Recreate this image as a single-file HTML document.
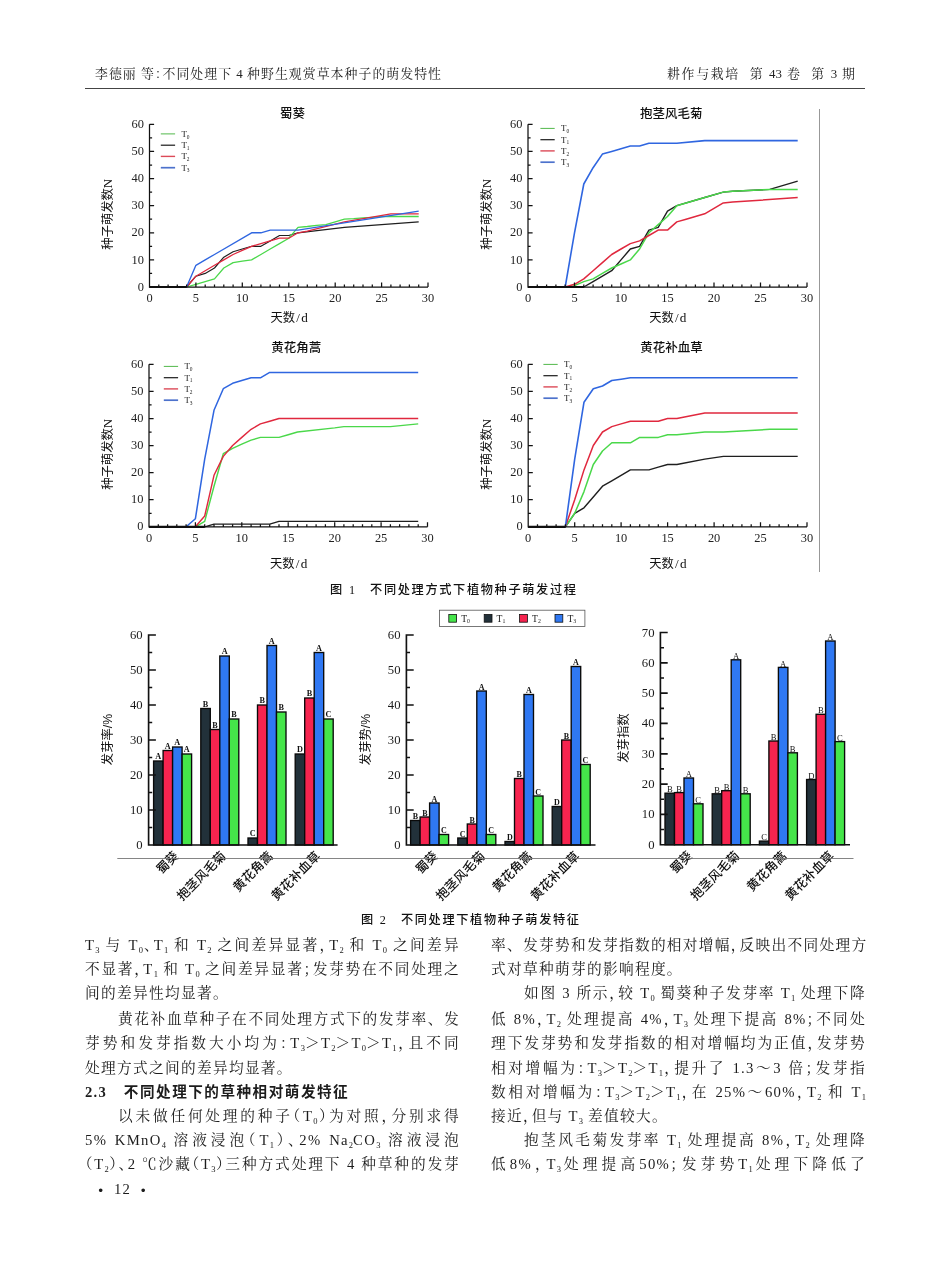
<!DOCTYPE html>
<html lang="zh-CN"><head><meta charset="utf-8"><title>耕作与栽培 第43卷 第3期</title>
<style>
html,body{margin:0;padding:0;background:#fff}
#pg{position:relative;width:950px;height:1280px;overflow:hidden;background:#fff;color:#1c1c1c;font-family:"Liberation Serif","Noto Serif CJK SC",serif}
.l{position:absolute;height:24px;line-height:24px;font-size:14.7px;white-space:nowrap;text-spacing-trim:space-all;letter-spacing:1.3px}
.j{text-align:justify;text-align-last:justify}
.l sub{font-size:8.5px;vertical-align:baseline;position:relative;top:2.5px;letter-spacing:0}
.l i,.hd i{font-style:normal;font-feature-settings:"halt" 1}
.hd{position:absolute;top:63px;height:22px;line-height:22px;font-size:12.9px;color:#222;text-align:justify;text-align-last:justify}
.cap{position:absolute;height:20px;line-height:20px;font-size:12.2px;font-family:"Liberation Sans","Noto Sans CJK SC",sans-serif;font-weight:500;color:#111;text-align:justify;text-align-last:justify}
.sf{font-family:"Liberation Serif",serif;font-weight:400}
.bu{font-family:"DejaVu Sans",sans-serif;font-size:12.5px;line-height:1;position:relative;top:0.5px}
</style></head><body><div id="pg">
<div class="hd" style="left:95px;width:346px">李德丽 等<i>：</i>不同处理下 4 种野生观赏草本种子的萌发特性</div>
<div class="hd" style="left:667px;width:188px">耕作与栽培&nbsp; 第 43 卷&nbsp; 第 3 期</div>
<div style="position:absolute;left:85px;top:88px;width:780px;height:1px;background:#444"></div>
<svg width="950" height="1280" viewBox="0 0 950 1280" style="position:absolute;left:0;top:0">
<g>
<text x="292.5" y="117.8" text-anchor="middle" font-family='Liberation Sans, Noto Sans CJK SC, sans-serif' font-size="12.5" font-weight="500" fill="#111">蜀葵</text>
<polyline points="149.5,287 186.6,287 195.9,276.2 205.2,273.4 214.5,268 223.8,257.2 233.1,251.7 242.3,249 251.6,246.3 260.9,246.3 270.2,240.9 279.5,235.5 288.8,235.5 298,232.8 344.4,227.3 418.7,221.9" fill="none" stroke="#1f1f1f" stroke-width="1.19" stroke-linejoin="round"/>
<polyline points="149.5,287 186.6,287 195.9,284.3 205.2,281.6 214.5,278.9 223.8,268 233.1,262.6 242.3,261.2 251.6,259.9 260.9,254.5 270.2,249 279.5,243.6 288.8,238.2 298,227.3 307.3,226.5 316.6,225.4 325.9,224.6 335.2,221.9 344.4,219.2 353.7,218.7 363,217.9 372.3,217.3 381.6,216.5 418.7,216.5" fill="none" stroke="#4ad84a" stroke-width="1.27" stroke-linejoin="round"/>
<polyline points="149.5,287 186.6,287 195.9,276.2 205.2,270.7 214.5,265.3 223.8,259.9 233.1,254.5 242.3,250.4 251.6,246.3 260.9,243.6 270.2,240.9 279.5,238.2 288.8,238.2 298,232.8 307.3,231.1 344.4,221.9 390.9,213.8 400.1,213.8 418.7,213.8" fill="none" stroke="#e0283e" stroke-width="1.27" stroke-linejoin="round"/>
<polyline points="149.5,287 186.6,287 195.9,265.3 205.2,259.9 214.5,254.5 251.6,232.8 260.9,232.8 270.2,230.1 298,230.1 418.7,211.1" fill="none" stroke="#2f66e0" stroke-width="1.36" stroke-linejoin="round"/>
<path d="M149.5 287H186.6" stroke="#111" stroke-width="2.2"/>
<path d="M149.5 124.3V287H428M158.8 287v-2.6M168.1 287v-2.6M177.3 287v-2.6M186.6 287v-2.6M195.9 287v-4.6M205.2 287v-2.6M214.5 287v-2.6M223.8 287v-2.6M233.1 287v-2.6M242.3 287v-4.6M251.6 287v-2.6M260.9 287v-2.6M270.2 287v-2.6M279.5 287v-2.6M288.8 287v-4.6M298 287v-2.6M307.3 287v-2.6M316.6 287v-2.6M325.9 287v-2.6M335.2 287v-4.6M344.4 287v-2.6M353.7 287v-2.6M363 287v-2.6M372.3 287v-2.6M381.6 287v-4.6M390.9 287v-2.6M400.1 287v-2.6M409.4 287v-2.6M418.7 287v-2.6M428 287v-4.6M149.5 273.4h2.6M149.5 259.9h4.6M149.5 246.3h2.6M149.5 232.8h4.6M149.5 219.2h2.6M149.5 205.7h4.6M149.5 192.1h2.6M149.5 178.5h4.6M149.5 165h2.6M149.5 151.4h4.6M149.5 137.9h2.6M149.5 124.3h4.6" fill="none" stroke="#111" stroke-width="1.25"/>
<g font-family="Liberation Serif, serif" font-size="12.4" fill="#222">
<text x="149.5" y="302.2" text-anchor="middle">0</text>
<text x="195.9" y="302.2" text-anchor="middle">5</text>
<text x="242.3" y="302.2" text-anchor="middle">10</text>
<text x="288.8" y="302.2" text-anchor="middle">15</text>
<text x="335.2" y="302.2" text-anchor="middle">20</text>
<text x="381.6" y="302.2" text-anchor="middle">25</text>
<text x="428" y="302.2" text-anchor="middle">30</text>
<text x="144" y="290.6" text-anchor="end">0</text>
<text x="144" y="263.5" text-anchor="end">10</text>
<text x="144" y="236.4" text-anchor="end">20</text>
<text x="144" y="209.2" text-anchor="end">30</text>
<text x="144" y="182.1" text-anchor="end">40</text>
<text x="144" y="155" text-anchor="end">50</text>
<text x="144" y="127.9" text-anchor="end">60</text>
</g>
<text x="289.1" y="322" text-anchor="middle" font-family='Liberation Sans, Noto Sans CJK SC, sans-serif' font-size="12.3" fill="#111">天数<tspan font-family="Liberation Serif, serif" font-size="13.2" dx="1.2">/</tspan><tspan font-family="Liberation Serif, serif" font-size="13.2" dx="1.2">d</tspan></text>
<text transform="translate(111.8 214.2) rotate(-90)" text-anchor="middle" font-family='Liberation Sans, Noto Sans CJK SC, sans-serif' font-size="12.3" fill="#111">种子萌发数<tspan font-family="Liberation Serif, serif" font-size="13">N</tspan></text>
<path d="M160.8 133.9h14.3" stroke="#52b84a" stroke-width="1.0"/>
<text x="181.4" y="136.9" font-family='Liberation Serif, serif' font-size="8.9" fill="#222">T<tspan dy="1.6" font-size="5.4">0</tspan></text>
<path d="M160.8 145.2h14.3" stroke="#1a1a1a" stroke-width="1.2"/>
<text x="181.4" y="148.2" font-family='Liberation Serif, serif' font-size="8.9" fill="#222">T<tspan dy="1.6" font-size="5.4">1</tspan></text>
<path d="M160.8 156.4h14.3" stroke="#dc4a58" stroke-width="1.4"/>
<text x="181.4" y="159.4" font-family='Liberation Serif, serif' font-size="8.9" fill="#222">T<tspan dy="1.6" font-size="5.4">2</tspan></text>
<path d="M160.8 167.7h14.3" stroke="#4d72cc" stroke-width="1.7"/>
<text x="181.4" y="170.7" font-family='Liberation Serif, serif' font-size="8.9" fill="#222">T<tspan dy="1.6" font-size="5.4">3</tspan></text>
</g>
<g>
<text x="671.2" y="118.4" text-anchor="middle" font-family='Liberation Sans, Noto Sans CJK SC, sans-serif' font-size="12.5" font-weight="500" fill="#111">抱茎风毛菊</text>
<polyline points="528,287 583.8,287 593.1,281.6 602.4,276.2 611.7,270.7 621,259.9 630.3,249 639.6,246.3 648.9,230.1 658.2,227.3 667.5,211.1 676.8,205.7 704.7,197.5 723.3,192.1 732.6,191.3 769.8,189.4 797.7,181.2" fill="none" stroke="#1f1f1f" stroke-width="1.40" stroke-linejoin="round"/>
<polyline points="528,287 570.8,287 574.5,285.6 583.8,281.6 593.1,278.9 602.4,273.4 611.7,268 621,264 630.3,259.9 639.6,249 648.9,232.8 658.2,224.6 667.5,216.5 676.8,205.7 704.7,197.5 723.3,192.1 732.6,191.3 769.8,189.4 797.7,189.4" fill="none" stroke="#4ad84a" stroke-width="1.50" stroke-linejoin="round"/>
<polyline points="528,287 565.2,287 574.5,284.3 583.8,278.9 593.1,270.7 602.4,262.6 611.7,254.5 621,249 630.3,243.6 639.6,240.9 648.9,235.5 658.2,230.1 667.5,230.1 676.8,221.9 686.1,219.2 695.4,216.5 704.7,213.8 714,208.4 723.3,202.9 732.6,202.1 797.7,197.5" fill="none" stroke="#e0283e" stroke-width="1.50" stroke-linejoin="round"/>
<polyline points="528,287 565.2,287 574.5,232.8 583.8,184 593.1,167.7 602.4,154.1 611.7,151.4 621,148.7 630.3,146 639.6,146 648.9,143.3 676.8,143.3 704.7,140.6 797.7,140.6" fill="none" stroke="#2f66e0" stroke-width="1.60" stroke-linejoin="round"/>
<path d="M528 287H583.8" stroke="#111" stroke-width="2.2"/>
<path d="M528 124.3V287H807M537.3 287v-2.6M546.6 287v-2.6M555.9 287v-2.6M565.2 287v-2.6M574.5 287v-4.6M583.8 287v-2.6M593.1 287v-2.6M602.4 287v-2.6M611.7 287v-2.6M621 287v-4.6M630.3 287v-2.6M639.6 287v-2.6M648.9 287v-2.6M658.2 287v-2.6M667.5 287v-4.6M676.8 287v-2.6M686.1 287v-2.6M695.4 287v-2.6M704.7 287v-2.6M714 287v-4.6M723.3 287v-2.6M732.6 287v-2.6M741.9 287v-2.6M751.2 287v-2.6M760.5 287v-4.6M769.8 287v-2.6M779.1 287v-2.6M788.4 287v-2.6M797.7 287v-2.6M807 287v-4.6M528 273.4h2.6M528 259.9h4.6M528 246.3h2.6M528 232.8h4.6M528 219.2h2.6M528 205.7h4.6M528 192.1h2.6M528 178.5h4.6M528 165h2.6M528 151.4h4.6M528 137.9h2.6M528 124.3h4.6" fill="none" stroke="#111" stroke-width="1.25"/>
<g font-family="Liberation Serif, serif" font-size="12.4" fill="#222">
<text x="528" y="302.2" text-anchor="middle">0</text>
<text x="574.5" y="302.2" text-anchor="middle">5</text>
<text x="621" y="302.2" text-anchor="middle">10</text>
<text x="667.5" y="302.2" text-anchor="middle">15</text>
<text x="714" y="302.2" text-anchor="middle">20</text>
<text x="760.5" y="302.2" text-anchor="middle">25</text>
<text x="807" y="302.2" text-anchor="middle">30</text>
<text x="522.5" y="290.6" text-anchor="end">0</text>
<text x="522.5" y="263.5" text-anchor="end">10</text>
<text x="522.5" y="236.4" text-anchor="end">20</text>
<text x="522.5" y="209.2" text-anchor="end">30</text>
<text x="522.5" y="182.1" text-anchor="end">40</text>
<text x="522.5" y="155" text-anchor="end">50</text>
<text x="522.5" y="127.9" text-anchor="end">60</text>
</g>
<text x="667.8" y="322.4" text-anchor="middle" font-family='Liberation Sans, Noto Sans CJK SC, sans-serif' font-size="12.3" fill="#111">天数<tspan font-family="Liberation Serif, serif" font-size="13.2" dx="1.2">/</tspan><tspan font-family="Liberation Serif, serif" font-size="13.2" dx="1.2">d</tspan></text>
<text transform="translate(491.2 214.2) rotate(-90)" text-anchor="middle" font-family='Liberation Sans, Noto Sans CJK SC, sans-serif' font-size="12.3" fill="#111">种子萌发数<tspan font-family="Liberation Serif, serif" font-size="13">N</tspan></text>
<path d="M540.4 128.4h14.3" stroke="#52b84a" stroke-width="1.0"/>
<text x="561" y="131.4" font-family='Liberation Serif, serif' font-size="8.9" fill="#222">T<tspan dy="1.6" font-size="5.4">0</tspan></text>
<path d="M540.4 139.7h14.3" stroke="#1a1a1a" stroke-width="1.2"/>
<text x="561" y="142.7" font-family='Liberation Serif, serif' font-size="8.9" fill="#222">T<tspan dy="1.6" font-size="5.4">1</tspan></text>
<path d="M540.4 150.9h14.3" stroke="#dc4a58" stroke-width="1.4"/>
<text x="561" y="153.9" font-family='Liberation Serif, serif' font-size="8.9" fill="#222">T<tspan dy="1.6" font-size="5.4">2</tspan></text>
<path d="M540.4 162.2h14.3" stroke="#4d72cc" stroke-width="1.7"/>
<text x="561" y="165.2" font-family='Liberation Serif, serif' font-size="8.9" fill="#222">T<tspan dy="1.6" font-size="5.4">3</tspan></text>
</g>
<g>
<text x="296.3" y="351.6" text-anchor="middle" font-family='Liberation Sans, Noto Sans CJK SC, sans-serif' font-size="12.5" font-weight="500" fill="#111">黄花角蒿</text>
<polyline points="149,526.8 204.7,526.8 214,524.1 269.7,524.1 279,521.4 418.2,521.4" fill="none" stroke="#1f1f1f" stroke-width="1.33" stroke-linejoin="round"/>
<polyline points="149,526.8 195.4,526.8 204.7,521.4 214,486.2 223.3,453.7 232.6,448.3 241.8,444.2 251.1,440.1 260.4,437.4 279,437.4 288.2,434.7 297.5,432 334.7,427.9 343.9,426.6 390.4,426.6 418.2,423.9" fill="none" stroke="#4ad84a" stroke-width="1.42" stroke-linejoin="round"/>
<polyline points="149,526.8 195.4,526.8 204.7,516 214,475.3 223.3,456.4 232.6,445.5 241.8,437.4 251.1,429.3 260.4,423.9 269.7,421.2 279,418.5 418.2,418.5" fill="none" stroke="#e0283e" stroke-width="1.42" stroke-linejoin="round"/>
<polyline points="149,526.8 186.1,526.8 195.4,518.7 204.7,459.1 214,410.3 223.3,388.7 232.6,383.3 241.8,380.5 251.1,377.8 260.4,377.8 269.7,372.4 418.2,372.4" fill="none" stroke="#2f66e0" stroke-width="1.52" stroke-linejoin="round"/>
<path d="M149 526.8H204.7" stroke="#111" stroke-width="2.2"/>
<path d="M149 364.3V526.8H427.5M158.3 526.8v-2.6M167.6 526.8v-2.6M176.8 526.8v-2.6M186.1 526.8v-2.6M195.4 526.8v-4.6M204.7 526.8v-2.6M214 526.8v-2.6M223.3 526.8v-2.6M232.6 526.8v-2.6M241.8 526.8v-4.6M251.1 526.8v-2.6M260.4 526.8v-2.6M269.7 526.8v-2.6M279 526.8v-2.6M288.2 526.8v-4.6M297.5 526.8v-2.6M306.8 526.8v-2.6M316.1 526.8v-2.6M325.4 526.8v-2.6M334.7 526.8v-4.6M343.9 526.8v-2.6M353.2 526.8v-2.6M362.5 526.8v-2.6M371.8 526.8v-2.6M381.1 526.8v-4.6M390.4 526.8v-2.6M399.6 526.8v-2.6M408.9 526.8v-2.6M418.2 526.8v-2.6M427.5 526.8v-4.6M149 513.3h2.6M149 499.7h4.6M149 486.2h2.6M149 472.6h4.6M149 459.1h2.6M149 445.5h4.6M149 432h2.6M149 418.5h4.6M149 404.9h2.6M149 391.4h4.6M149 377.8h2.6M149 364.3h4.6" fill="none" stroke="#111" stroke-width="1.25"/>
<g font-family="Liberation Serif, serif" font-size="12.4" fill="#222">
<text x="149" y="542" text-anchor="middle">0</text>
<text x="195.4" y="542" text-anchor="middle">5</text>
<text x="241.8" y="542" text-anchor="middle">10</text>
<text x="288.2" y="542" text-anchor="middle">15</text>
<text x="334.7" y="542" text-anchor="middle">20</text>
<text x="381.1" y="542" text-anchor="middle">25</text>
<text x="427.5" y="542" text-anchor="middle">30</text>
<text x="143.5" y="530.4" text-anchor="end">0</text>
<text x="143.5" y="503.3" text-anchor="end">10</text>
<text x="143.5" y="476.2" text-anchor="end">20</text>
<text x="143.5" y="449.1" text-anchor="end">30</text>
<text x="143.5" y="422.1" text-anchor="end">40</text>
<text x="143.5" y="395" text-anchor="end">50</text>
<text x="143.5" y="367.9" text-anchor="end">60</text>
</g>
<text x="288.6" y="567.6" text-anchor="middle" font-family='Liberation Sans, Noto Sans CJK SC, sans-serif' font-size="12.3" fill="#111">天数<tspan font-family="Liberation Serif, serif" font-size="13.2" dx="1.2">/</tspan><tspan font-family="Liberation Serif, serif" font-size="13.2" dx="1.2">d</tspan></text>
<text transform="translate(111.8 454.3) rotate(-90)" text-anchor="middle" font-family='Liberation Sans, Noto Sans CJK SC, sans-serif' font-size="12.3" fill="#111">种子萌发数<tspan font-family="Liberation Serif, serif" font-size="13">N</tspan></text>
<path d="M163.8 366.4h14.3" stroke="#52b84a" stroke-width="1.0"/>
<text x="184.4" y="369.4" font-family='Liberation Serif, serif' font-size="8.9" fill="#222">T<tspan dy="1.6" font-size="5.4">0</tspan></text>
<path d="M163.8 377.7h14.3" stroke="#1a1a1a" stroke-width="1.2"/>
<text x="184.4" y="380.7" font-family='Liberation Serif, serif' font-size="8.9" fill="#222">T<tspan dy="1.6" font-size="5.4">1</tspan></text>
<path d="M163.8 388.9h14.3" stroke="#dc4a58" stroke-width="1.4"/>
<text x="184.4" y="391.9" font-family='Liberation Serif, serif' font-size="8.9" fill="#222">T<tspan dy="1.6" font-size="5.4">2</tspan></text>
<path d="M163.8 400.2h14.3" stroke="#4d72cc" stroke-width="1.7"/>
<text x="184.4" y="403.2" font-family='Liberation Serif, serif' font-size="8.9" fill="#222">T<tspan dy="1.6" font-size="5.4">3</tspan></text>
</g>
<g>
<text x="671.6" y="351.9" text-anchor="middle" font-family='Liberation Sans, Noto Sans CJK SC, sans-serif' font-size="12.5" font-weight="500" fill="#111">黄花补血草</text>
<polyline points="528.2,526.8 565.4,526.8 574.7,513.3 584,507.8 593.3,497 602.5,486.2 611.8,480.8 621.1,475.3 630.4,469.9 649,469.9 658.3,467.2 667.6,464.5 676.9,464.5 704.8,459.1 723.4,456.4 797.7,456.4" fill="none" stroke="#1f1f1f" stroke-width="1.40" stroke-linejoin="round"/>
<polyline points="528.2,526.8 565.4,526.8 574.7,513.3 584,491.6 593.3,464.5 602.5,451 611.8,442.8 630.4,442.8 639.7,437.4 658.3,437.4 667.6,434.7 676.9,434.7 704.8,432 723.4,432 769.8,429.3 797.7,429.3" fill="none" stroke="#4ad84a" stroke-width="1.50" stroke-linejoin="round"/>
<polyline points="528.2,526.8 565.4,526.8 574.7,499.7 584,469.9 593.3,445.5 602.5,432 611.8,426.6 621.1,423.9 630.4,421.2 658.3,421.2 667.6,418.5 676.9,418.5 704.8,413 797.7,413" fill="none" stroke="#e0283e" stroke-width="1.50" stroke-linejoin="round"/>
<polyline points="528.2,526.8 565.4,526.8 574.7,459.1 584,402.2 593.3,388.7 602.5,386 611.8,380.5 621.1,379.2 630.4,377.8 797.7,377.8" fill="none" stroke="#2f66e0" stroke-width="1.60" stroke-linejoin="round"/>
<path d="M528.2 526.8H565.4" stroke="#111" stroke-width="2.2"/>
<path d="M528.2 364.3V526.8H807M537.5 526.8v-2.6M546.8 526.8v-2.6M556.1 526.8v-2.6M565.4 526.8v-2.6M574.7 526.8v-4.6M584 526.8v-2.6M593.3 526.8v-2.6M602.5 526.8v-2.6M611.8 526.8v-2.6M621.1 526.8v-4.6M630.4 526.8v-2.6M639.7 526.8v-2.6M649 526.8v-2.6M658.3 526.8v-2.6M667.6 526.8v-4.6M676.9 526.8v-2.6M686.2 526.8v-2.6M695.5 526.8v-2.6M704.8 526.8v-2.6M714.1 526.8v-4.6M723.4 526.8v-2.6M732.7 526.8v-2.6M741.9 526.8v-2.6M751.2 526.8v-2.6M760.5 526.8v-4.6M769.8 526.8v-2.6M779.1 526.8v-2.6M788.4 526.8v-2.6M797.7 526.8v-2.6M807 526.8v-4.6M528.2 513.3h2.6M528.2 499.7h4.6M528.2 486.2h2.6M528.2 472.6h4.6M528.2 459.1h2.6M528.2 445.5h4.6M528.2 432h2.6M528.2 418.5h4.6M528.2 404.9h2.6M528.2 391.4h4.6M528.2 377.8h2.6M528.2 364.3h4.6" fill="none" stroke="#111" stroke-width="1.25"/>
<g font-family="Liberation Serif, serif" font-size="12.4" fill="#222">
<text x="528.2" y="542" text-anchor="middle">0</text>
<text x="574.7" y="542" text-anchor="middle">5</text>
<text x="621.1" y="542" text-anchor="middle">10</text>
<text x="667.6" y="542" text-anchor="middle">15</text>
<text x="714.1" y="542" text-anchor="middle">20</text>
<text x="760.5" y="542" text-anchor="middle">25</text>
<text x="807" y="542" text-anchor="middle">30</text>
<text x="522.7" y="530.4" text-anchor="end">0</text>
<text x="522.7" y="503.3" text-anchor="end">10</text>
<text x="522.7" y="476.2" text-anchor="end">20</text>
<text x="522.7" y="449.1" text-anchor="end">30</text>
<text x="522.7" y="422.1" text-anchor="end">40</text>
<text x="522.7" y="395" text-anchor="end">50</text>
<text x="522.7" y="367.9" text-anchor="end">60</text>
</g>
<text x="667.9" y="567.6" text-anchor="middle" font-family='Liberation Sans, Noto Sans CJK SC, sans-serif' font-size="12.3" fill="#111">天数<tspan font-family="Liberation Serif, serif" font-size="13.2" dx="1.2">/</tspan><tspan font-family="Liberation Serif, serif" font-size="13.2" dx="1.2">d</tspan></text>
<text transform="translate(491.2 454.3) rotate(-90)" text-anchor="middle" font-family='Liberation Sans, Noto Sans CJK SC, sans-serif' font-size="12.3" fill="#111">种子萌发数<tspan font-family="Liberation Serif, serif" font-size="13">N</tspan></text>
<path d="M543.4 364.4h14.3" stroke="#52b84a" stroke-width="1.0"/>
<text x="564" y="367.4" font-family='Liberation Serif, serif' font-size="8.9" fill="#222">T<tspan dy="1.6" font-size="5.4">0</tspan></text>
<path d="M543.4 375.7h14.3" stroke="#1a1a1a" stroke-width="1.2"/>
<text x="564" y="378.7" font-family='Liberation Serif, serif' font-size="8.9" fill="#222">T<tspan dy="1.6" font-size="5.4">1</tspan></text>
<path d="M543.4 386.9h14.3" stroke="#dc4a58" stroke-width="1.4"/>
<text x="564" y="389.9" font-family='Liberation Serif, serif' font-size="8.9" fill="#222">T<tspan dy="1.6" font-size="5.4">2</tspan></text>
<path d="M543.4 398.2h14.3" stroke="#4d72cc" stroke-width="1.7"/>
<text x="564" y="401.2" font-family='Liberation Serif, serif' font-size="8.9" fill="#222">T<tspan dy="1.6" font-size="5.4">3</tspan></text>
</g>
<g>
<text x="158.3" y="759" text-anchor="middle" font-family="Liberation Serif, serif" font-size="8.2" font-weight="bold" fill="#111">A</text>
<rect x="153.6" y="761" width="9.5" height="84" fill="#22313a" stroke="#0a0a0a" stroke-width="1.35"/>
<text x="167.8" y="748.5" text-anchor="middle" font-family="Liberation Serif, serif" font-size="8.2" font-weight="bold" fill="#111">A</text>
<rect x="163.1" y="750.5" width="9.5" height="94.5" fill="#f6244f" stroke="#0a0a0a" stroke-width="1.35"/>
<text x="177.3" y="745" text-anchor="middle" font-family="Liberation Serif, serif" font-size="8.2" font-weight="bold" fill="#111">A</text>
<rect x="172.6" y="747" width="9.5" height="98" fill="#2f78f3" stroke="#0a0a0a" stroke-width="1.35"/>
<text x="186.8" y="752" text-anchor="middle" font-family="Liberation Serif, serif" font-size="8.2" font-weight="bold" fill="#111">A</text>
<rect x="182.1" y="754" width="9.5" height="91" fill="#45e54a" stroke="#0a0a0a" stroke-width="1.35"/>
<text transform="translate(179.5 856.8) rotate(-45)" text-anchor="end" font-family='Liberation Sans, Noto Sans CJK SC, sans-serif' font-size="12.6" font-weight="500" fill="#111">蜀葵</text>
<text x="205.6" y="706.5" text-anchor="middle" font-family="Liberation Serif, serif" font-size="8.2" font-weight="bold" fill="#111">B</text>
<rect x="200.8" y="708.5" width="9.5" height="136.5" fill="#22313a" stroke="#0a0a0a" stroke-width="1.35"/>
<text x="215.1" y="727.5" text-anchor="middle" font-family="Liberation Serif, serif" font-size="8.2" font-weight="bold" fill="#111">B</text>
<rect x="210.3" y="729.5" width="9.5" height="115.5" fill="#f6244f" stroke="#0a0a0a" stroke-width="1.35"/>
<text x="224.6" y="654" text-anchor="middle" font-family="Liberation Serif, serif" font-size="8.2" font-weight="bold" fill="#111">A</text>
<rect x="219.8" y="656" width="9.5" height="189" fill="#2f78f3" stroke="#0a0a0a" stroke-width="1.35"/>
<text x="234.1" y="717" text-anchor="middle" font-family="Liberation Serif, serif" font-size="8.2" font-weight="bold" fill="#111">B</text>
<rect x="229.3" y="719" width="9.5" height="126" fill="#45e54a" stroke="#0a0a0a" stroke-width="1.35"/>
<text transform="translate(226.7 856.8) rotate(-45)" text-anchor="end" font-family='Liberation Sans, Noto Sans CJK SC, sans-serif' font-size="12.6" font-weight="500" fill="#111">抱茎风毛菊</text>
<text x="252.8" y="836" text-anchor="middle" font-family="Liberation Serif, serif" font-size="8.2" font-weight="bold" fill="#111">C</text>
<rect x="248" y="838" width="9.5" height="7" fill="#22313a" stroke="#0a0a0a" stroke-width="1.35"/>
<text x="262.2" y="703" text-anchor="middle" font-family="Liberation Serif, serif" font-size="8.2" font-weight="bold" fill="#111">B</text>
<rect x="257.5" y="705" width="9.5" height="140" fill="#f6244f" stroke="#0a0a0a" stroke-width="1.35"/>
<text x="271.8" y="643.5" text-anchor="middle" font-family="Liberation Serif, serif" font-size="8.2" font-weight="bold" fill="#111">A</text>
<rect x="267" y="645.5" width="9.5" height="199.5" fill="#2f78f3" stroke="#0a0a0a" stroke-width="1.35"/>
<text x="281.2" y="710" text-anchor="middle" font-family="Liberation Serif, serif" font-size="8.2" font-weight="bold" fill="#111">B</text>
<rect x="276.5" y="712" width="9.5" height="133" fill="#45e54a" stroke="#0a0a0a" stroke-width="1.35"/>
<text transform="translate(273.9 856.8) rotate(-45)" text-anchor="end" font-family='Liberation Sans, Noto Sans CJK SC, sans-serif' font-size="12.6" font-weight="500" fill="#111">黄花角蒿</text>
<text x="300" y="752" text-anchor="middle" font-family="Liberation Serif, serif" font-size="8.2" font-weight="bold" fill="#111">D</text>
<rect x="295.2" y="754" width="9.5" height="91" fill="#22313a" stroke="#0a0a0a" stroke-width="1.35"/>
<text x="309.5" y="696" text-anchor="middle" font-family="Liberation Serif, serif" font-size="8.2" font-weight="bold" fill="#111">B</text>
<rect x="304.7" y="698" width="9.5" height="147" fill="#f6244f" stroke="#0a0a0a" stroke-width="1.35"/>
<text x="319" y="650.5" text-anchor="middle" font-family="Liberation Serif, serif" font-size="8.2" font-weight="bold" fill="#111">A</text>
<rect x="314.2" y="652.5" width="9.5" height="192.5" fill="#2f78f3" stroke="#0a0a0a" stroke-width="1.35"/>
<text x="328.5" y="717" text-anchor="middle" font-family="Liberation Serif, serif" font-size="8.2" font-weight="bold" fill="#111">C</text>
<rect x="323.7" y="719" width="9.5" height="126" fill="#45e54a" stroke="#0a0a0a" stroke-width="1.35"/>
<text transform="translate(321.1 856.8) rotate(-45)" text-anchor="end" font-family='Liberation Sans, Noto Sans CJK SC, sans-serif' font-size="12.6" font-weight="500" fill="#111">黄花补血草</text>
<path d="M148.6 634.2V845H337.6M148.6 827.5h3.6M148.6 810h7.3M148.6 792.5h3.6M148.6 775h7.3M148.6 757.5h3.6M148.6 740h7.3M148.6 722.5h3.6M148.6 705h7.3M148.6 687.5h3.6M148.6 670h7.3M148.6 652.5h3.6M148.6 635h7.3" fill="none" stroke="#111" stroke-width="1.65"/>
<g font-family="Liberation Serif, serif" font-size="13.5" fill="#1a1a1a">
<text transform="translate(142.7 849) scale(0.94 1)" text-anchor="end">0</text>
<text transform="translate(142.7 814) scale(0.94 1)" text-anchor="end">10</text>
<text transform="translate(142.7 779) scale(0.94 1)" text-anchor="end">20</text>
<text transform="translate(142.7 744) scale(0.94 1)" text-anchor="end">30</text>
<text transform="translate(142.7 709) scale(0.94 1)" text-anchor="end">40</text>
<text transform="translate(142.7 674) scale(0.94 1)" text-anchor="end">50</text>
<text transform="translate(142.7 639) scale(0.94 1)" text-anchor="end">60</text>
</g>
<text transform="translate(111.6 739.5) rotate(-90)" text-anchor="middle" font-family='Liberation Sans, Noto Sans CJK SC, sans-serif' font-size="12.3" fill="#111">发芽率/%</text>
</g>
<g>
<text x="415.4" y="819" text-anchor="middle" font-family="Liberation Serif, serif" font-size="8" font-weight="bold" fill="#111">B</text>
<rect x="410.6" y="820.5" width="9.5" height="24.5" fill="#22313a" stroke="#0a0a0a" stroke-width="1.35"/>
<text x="424.9" y="815.5" text-anchor="middle" font-family="Liberation Serif, serif" font-size="8" font-weight="bold" fill="#111">B</text>
<rect x="420.1" y="817" width="9.5" height="28" fill="#f6244f" stroke="#0a0a0a" stroke-width="1.35"/>
<text x="434.4" y="801.5" text-anchor="middle" font-family="Liberation Serif, serif" font-size="8" font-weight="bold" fill="#111">A</text>
<rect x="429.6" y="803" width="9.5" height="42" fill="#2f78f3" stroke="#0a0a0a" stroke-width="1.35"/>
<text x="443.9" y="833" text-anchor="middle" font-family="Liberation Serif, serif" font-size="8" font-weight="bold" fill="#111">C</text>
<rect x="439.1" y="834.5" width="9.5" height="10.5" fill="#45e54a" stroke="#0a0a0a" stroke-width="1.35"/>
<text transform="translate(438.7 856.8) rotate(-45)" text-anchor="end" font-family='Liberation Sans, Noto Sans CJK SC, sans-serif' font-size="12.6" font-weight="500" fill="#111">蜀葵</text>
<text x="462.6" y="836.5" text-anchor="middle" font-family="Liberation Serif, serif" font-size="8" font-weight="bold" fill="#111">C</text>
<rect x="457.8" y="838" width="9.5" height="7" fill="#22313a" stroke="#0a0a0a" stroke-width="1.35"/>
<text x="472.1" y="822.5" text-anchor="middle" font-family="Liberation Serif, serif" font-size="8" font-weight="bold" fill="#111">B</text>
<rect x="467.3" y="824" width="9.5" height="21" fill="#f6244f" stroke="#0a0a0a" stroke-width="1.35"/>
<text x="481.6" y="689.5" text-anchor="middle" font-family="Liberation Serif, serif" font-size="8" font-weight="bold" fill="#111">A</text>
<rect x="476.8" y="691" width="9.5" height="154" fill="#2f78f3" stroke="#0a0a0a" stroke-width="1.35"/>
<text x="491.1" y="833" text-anchor="middle" font-family="Liberation Serif, serif" font-size="8" font-weight="bold" fill="#111">C</text>
<rect x="486.3" y="834.5" width="9.5" height="10.5" fill="#45e54a" stroke="#0a0a0a" stroke-width="1.35"/>
<text transform="translate(485.9 856.8) rotate(-45)" text-anchor="end" font-family='Liberation Sans, Noto Sans CJK SC, sans-serif' font-size="12.6" font-weight="500" fill="#111">抱茎风毛菊</text>
<text x="509.8" y="840" text-anchor="middle" font-family="Liberation Serif, serif" font-size="8" font-weight="bold" fill="#111">D</text>
<rect x="505" y="841.5" width="9.5" height="3.5" fill="#22313a" stroke="#0a0a0a" stroke-width="1.35"/>
<text x="519.2" y="777" text-anchor="middle" font-family="Liberation Serif, serif" font-size="8" font-weight="bold" fill="#111">B</text>
<rect x="514.5" y="778.5" width="9.5" height="66.5" fill="#f6244f" stroke="#0a0a0a" stroke-width="1.35"/>
<text x="528.8" y="693" text-anchor="middle" font-family="Liberation Serif, serif" font-size="8" font-weight="bold" fill="#111">A</text>
<rect x="524" y="694.5" width="9.5" height="150.5" fill="#2f78f3" stroke="#0a0a0a" stroke-width="1.35"/>
<text x="538.2" y="794.5" text-anchor="middle" font-family="Liberation Serif, serif" font-size="8" font-weight="bold" fill="#111">C</text>
<rect x="533.5" y="796" width="9.5" height="49" fill="#45e54a" stroke="#0a0a0a" stroke-width="1.35"/>
<text transform="translate(533.1 856.8) rotate(-45)" text-anchor="end" font-family='Liberation Sans, Noto Sans CJK SC, sans-serif' font-size="12.6" font-weight="500" fill="#111">黄花角蒿</text>
<text x="557" y="805" text-anchor="middle" font-family="Liberation Serif, serif" font-size="8" font-weight="bold" fill="#111">D</text>
<rect x="552.2" y="806.5" width="9.5" height="38.5" fill="#22313a" stroke="#0a0a0a" stroke-width="1.35"/>
<text x="566.5" y="738.5" text-anchor="middle" font-family="Liberation Serif, serif" font-size="8" font-weight="bold" fill="#111">B</text>
<rect x="561.7" y="740" width="9.5" height="105" fill="#f6244f" stroke="#0a0a0a" stroke-width="1.35"/>
<text x="576" y="665" text-anchor="middle" font-family="Liberation Serif, serif" font-size="8" font-weight="bold" fill="#111">A</text>
<rect x="571.2" y="666.5" width="9.5" height="178.5" fill="#2f78f3" stroke="#0a0a0a" stroke-width="1.35"/>
<text x="585.5" y="763" text-anchor="middle" font-family="Liberation Serif, serif" font-size="8" font-weight="bold" fill="#111">C</text>
<rect x="580.7" y="764.5" width="9.5" height="80.5" fill="#45e54a" stroke="#0a0a0a" stroke-width="1.35"/>
<text transform="translate(580.3 856.8) rotate(-45)" text-anchor="end" font-family='Liberation Sans, Noto Sans CJK SC, sans-serif' font-size="12.6" font-weight="500" fill="#111">黄花补血草</text>
<path d="M406.4 634.2V845H595.5M406.4 827.5h3.6M406.4 810h7.3M406.4 792.5h3.6M406.4 775h7.3M406.4 757.5h3.6M406.4 740h7.3M406.4 722.5h3.6M406.4 705h7.3M406.4 687.5h3.6M406.4 670h7.3M406.4 652.5h3.6M406.4 635h7.3" fill="none" stroke="#111" stroke-width="1.65"/>
<g font-family="Liberation Serif, serif" font-size="13.5" fill="#1a1a1a">
<text transform="translate(400.5 849) scale(0.94 1)" text-anchor="end">0</text>
<text transform="translate(400.5 814) scale(0.94 1)" text-anchor="end">10</text>
<text transform="translate(400.5 779) scale(0.94 1)" text-anchor="end">20</text>
<text transform="translate(400.5 744) scale(0.94 1)" text-anchor="end">30</text>
<text transform="translate(400.5 709) scale(0.94 1)" text-anchor="end">40</text>
<text transform="translate(400.5 674) scale(0.94 1)" text-anchor="end">50</text>
<text transform="translate(400.5 639) scale(0.94 1)" text-anchor="end">60</text>
</g>
<text transform="translate(369.6 739.5) rotate(-90)" text-anchor="middle" font-family='Liberation Sans, Noto Sans CJK SC, sans-serif' font-size="12.3" fill="#111">发芽势/%</text>
</g>
<g>
<text x="669.8" y="792.3" text-anchor="middle" font-family="Liberation Serif, serif" font-size="8.6" fill="#111">B</text>
<rect x="665" y="793.2" width="9.5" height="51.5" fill="#22313a" stroke="#0a0a0a" stroke-width="1.35"/>
<text x="679.2" y="791.7" text-anchor="middle" font-family="Liberation Serif, serif" font-size="8.6" fill="#111">B</text>
<rect x="674.5" y="792.6" width="9.5" height="52.1" fill="#f6244f" stroke="#0a0a0a" stroke-width="1.35"/>
<text x="688.8" y="777.1" text-anchor="middle" font-family="Liberation Serif, serif" font-size="8.6" fill="#111">A</text>
<rect x="684" y="778" width="9.5" height="66.7" fill="#2f78f3" stroke="#0a0a0a" stroke-width="1.35"/>
<text x="698.2" y="802.9" text-anchor="middle" font-family="Liberation Serif, serif" font-size="8.6" fill="#111">C</text>
<rect x="693.5" y="803.8" width="9.5" height="40.9" fill="#45e54a" stroke="#0a0a0a" stroke-width="1.35"/>
<text transform="translate(693.2 856.5) rotate(-45)" text-anchor="end" font-family='Liberation Sans, Noto Sans CJK SC, sans-serif' font-size="12.6" font-weight="500" fill="#111">蜀葵</text>
<text x="717" y="792.9" text-anchor="middle" font-family="Liberation Serif, serif" font-size="8.6" fill="#111">B</text>
<rect x="712.2" y="793.8" width="9.5" height="50.9" fill="#22313a" stroke="#0a0a0a" stroke-width="1.35"/>
<text x="726.5" y="789.8" text-anchor="middle" font-family="Liberation Serif, serif" font-size="8.6" fill="#111">B</text>
<rect x="721.7" y="790.7" width="9.5" height="54" fill="#f6244f" stroke="#0a0a0a" stroke-width="1.35"/>
<text x="736" y="658.9" text-anchor="middle" font-family="Liberation Serif, serif" font-size="8.6" fill="#111">A</text>
<rect x="731.2" y="659.8" width="9.5" height="184.9" fill="#2f78f3" stroke="#0a0a0a" stroke-width="1.35"/>
<text x="745.5" y="792.9" text-anchor="middle" font-family="Liberation Serif, serif" font-size="8.6" fill="#111">B</text>
<rect x="740.7" y="793.8" width="9.5" height="50.9" fill="#45e54a" stroke="#0a0a0a" stroke-width="1.35"/>
<text transform="translate(740.4 856.5) rotate(-45)" text-anchor="end" font-family='Liberation Sans, Noto Sans CJK SC, sans-serif' font-size="12.6" font-weight="500" fill="#111">抱茎风毛菊</text>
<text x="764.1" y="840.2" text-anchor="middle" font-family="Liberation Serif, serif" font-size="8.6" fill="#111">C</text>
<rect x="759.4" y="841.1" width="9.5" height="3.6" fill="#22313a" stroke="#0a0a0a" stroke-width="1.35"/>
<text x="773.6" y="740.1" text-anchor="middle" font-family="Liberation Serif, serif" font-size="8.6" fill="#111">B</text>
<rect x="768.9" y="741" width="9.5" height="103.7" fill="#f6244f" stroke="#0a0a0a" stroke-width="1.35"/>
<text x="783.1" y="666.5" text-anchor="middle" font-family="Liberation Serif, serif" font-size="8.6" fill="#111">A</text>
<rect x="778.4" y="667.4" width="9.5" height="177.3" fill="#2f78f3" stroke="#0a0a0a" stroke-width="1.35"/>
<text x="792.6" y="751.9" text-anchor="middle" font-family="Liberation Serif, serif" font-size="8.6" fill="#111">B</text>
<rect x="787.9" y="752.8" width="9.5" height="91.9" fill="#45e54a" stroke="#0a0a0a" stroke-width="1.35"/>
<text transform="translate(787.6 856.5) rotate(-45)" text-anchor="end" font-family='Liberation Sans, Noto Sans CJK SC, sans-serif' font-size="12.6" font-weight="500" fill="#111">黄花角蒿</text>
<text x="811.4" y="778.6" text-anchor="middle" font-family="Liberation Serif, serif" font-size="8.6" fill="#111">D</text>
<rect x="806.6" y="779.5" width="9.5" height="65.2" fill="#22313a" stroke="#0a0a0a" stroke-width="1.35"/>
<text x="820.9" y="713.4" text-anchor="middle" font-family="Liberation Serif, serif" font-size="8.6" fill="#111">B</text>
<rect x="816.1" y="714.3" width="9.5" height="130.4" fill="#f6244f" stroke="#0a0a0a" stroke-width="1.35"/>
<text x="830.4" y="640.1" text-anchor="middle" font-family="Liberation Serif, serif" font-size="8.6" fill="#111">A</text>
<rect x="825.6" y="641" width="9.5" height="203.7" fill="#2f78f3" stroke="#0a0a0a" stroke-width="1.35"/>
<text x="839.9" y="740.7" text-anchor="middle" font-family="Liberation Serif, serif" font-size="8.6" fill="#111">C</text>
<rect x="835.1" y="741.6" width="9.5" height="103.1" fill="#45e54a" stroke="#0a0a0a" stroke-width="1.35"/>
<text transform="translate(834.8 856.5) rotate(-45)" text-anchor="end" font-family='Liberation Sans, Noto Sans CJK SC, sans-serif' font-size="12.6" font-weight="500" fill="#111">黄花补血草</text>
<path d="M660.4 631.7V844.7H850M660.4 829.5h3.6M660.4 814.4h7.3M660.4 799.2h3.6M660.4 784.1h7.3M660.4 768.9h3.6M660.4 753.8h7.3M660.4 738.6h3.6M660.4 723.4h7.3M660.4 708.3h3.6M660.4 693.1h7.3M660.4 678h3.6M660.4 662.8h7.3M660.4 647.7h3.6M660.4 632.5h7.3" fill="none" stroke="#111" stroke-width="1.65"/>
<g font-family="Liberation Serif, serif" font-size="13.5" fill="#1a1a1a">
<text transform="translate(654.5 848.7) scale(0.94 1)" text-anchor="end">0</text>
<text transform="translate(654.5 818.4) scale(0.94 1)" text-anchor="end">10</text>
<text transform="translate(654.5 788.1) scale(0.94 1)" text-anchor="end">20</text>
<text transform="translate(654.5 757.8) scale(0.94 1)" text-anchor="end">30</text>
<text transform="translate(654.5 727.4) scale(0.94 1)" text-anchor="end">40</text>
<text transform="translate(654.5 697.1) scale(0.94 1)" text-anchor="end">50</text>
<text transform="translate(654.5 666.8) scale(0.94 1)" text-anchor="end">60</text>
<text transform="translate(654.5 636.5) scale(0.94 1)" text-anchor="end">70</text>
</g>
<text transform="translate(628 738.1) rotate(-90)" text-anchor="middle" font-family='Liberation Sans, Noto Sans CJK SC, sans-serif' font-size="12.3" fill="#111">发芽指数</text>
</g>
<rect x="439.5" y="610.2" width="145.4" height="16.2" fill="#fff" stroke="#555" stroke-width="0.8"/>
<rect x="448.8" y="614.4" width="7.8" height="7.8" fill="#45e54a" stroke="#111" stroke-width="0.8"/>
<text x="461.2" y="621.6" font-family='Liberation Serif, serif' font-size="9.6" fill="#222">T<tspan dy="1.6" font-size="5.8">0</tspan></text>
<rect x="484.2" y="614.4" width="7.8" height="7.8" fill="#22313a" stroke="#111" stroke-width="0.8"/>
<text x="496.6" y="621.6" font-family='Liberation Serif, serif' font-size="9.6" fill="#222">T<tspan dy="1.6" font-size="5.8">1</tspan></text>
<rect x="519.6" y="614.4" width="7.8" height="7.8" fill="#f6244f" stroke="#111" stroke-width="0.8"/>
<text x="532" y="621.6" font-family='Liberation Serif, serif' font-size="9.6" fill="#222">T<tspan dy="1.6" font-size="5.8">2</tspan></text>
<rect x="555" y="614.4" width="7.8" height="7.8" fill="#2f78f3" stroke="#111" stroke-width="0.8"/>
<text x="567.4" y="621.6" font-family='Liberation Serif, serif' font-size="9.6" fill="#222">T<tspan dy="1.6" font-size="5.8">3</tspan></text>
<path d="M117.3 858.5H853.5" stroke="#777" stroke-width="0.9"/>
<path d="M819.5 109V572" stroke="#8c8c8c" stroke-width="0.9"/>
</svg>
<div class="cap" style="left:330px;top:580.2px;width:246px">图 <span class="sf">1</span>&nbsp;&nbsp; 不同处理方式下植物种子萌发过程</div>
<div class="cap" style="left:361px;top:909.6px;width:218px">图 <span class="sf">2</span>&nbsp;&nbsp; 不同处理下植物种子萌发特征</div>
<div class="l j" style="left:85px;top:933px;width:375px"><span>T<sub>3</sub> 与 T<sub>0</sub><i>、</i>T<sub>1</sub> 和 T<sub>2</sub> 之间差异显著<i>，</i>T<sub>2</sub> 和 T<sub>0</sub> 之间差异</span></div>
<div class="l j" style="left:85px;top:957px;width:375px"><span>不显著<i>，</i>T<sub>1</sub> 和 T<sub>0</sub> 之间差异显著<i>；</i>发芽势在不同处理之</span></div>
<div class="l" style="left:85px;top:981px;width:375px"><span>间的差异性均显著。</span></div>
<div class="l j" style="left:118px;top:1007px;width:342px"><span>黄花补血草种子在不同处理方式下的发芽率、发</span></div>
<div class="l j" style="left:85px;top:1031px;width:375px"><span>芽势和发芽指数大小均为<i>：</i>T<sub>3</sub>＞T<sub>2</sub>＞T<sub>0</sub>＞T<sub>1</sub><i>，</i>且不同</span></div>
<div class="l" style="left:85px;top:1056px;width:375px"><span>处理方式之间的差异均显著。</span></div>
<div class="l j" style="left:118px;top:1104px;width:342px"><span>以未做任何处理的种子<i>（</i>T<sub>0</sub><i>）</i>为对照<i>，</i>分别求得</span></div>
<div class="l j" style="left:85px;top:1128px;width:375px"><span>5% KMnO<sub>4</sub> 溶液浸泡<i>（</i>T<sub>1</sub><i>）</i><i>、</i>2% Na<sub>2</sub>CO<sub>3</sub> 溶液浸泡</span></div>
<div class="l j" style="left:85px;top:1152px;width:375px"><span><i>（</i>T<sub>2</sub><i>）</i><i>、</i>2 ℃沙藏<i>（</i>T<sub>3</sub><i>）</i>三种方式处理下 4 种草种的发芽</span></div>
<div class="l j" style="left:491px;top:933px;width:375px"><span>率、发芽势和发芽指数的相对增幅<i>，</i>反映出不同处理方</span></div>
<div class="l" style="left:491px;top:957px;width:375px"><span>式对草种萌芽的影响程度。</span></div>
<div class="l j" style="left:524px;top:981px;width:342px"><span>如图 3 所示<i>，</i>较 T<sub>0</sub> 蜀葵种子发芽率 T<sub>1</sub> 处理下降</span></div>
<div class="l j" style="left:491px;top:1007px;width:375px"><span>低 8%<i>，</i>T<sub>2</sub> 处理提高 4%<i>，</i>T<sub>3</sub> 处理下提高 8%<i>；</i>不同处</span></div>
<div class="l j" style="left:491px;top:1031px;width:375px"><span>理下发芽势和发芽指数的相对增幅均为正值<i>，</i>发芽势</span></div>
<div class="l j" style="left:491px;top:1056px;width:375px"><span>相对增幅为<i>：</i>T<sub>3</sub>＞T<sub>2</sub>＞T<sub>1</sub><i>，</i>提升了 1.3～3 倍<i>；</i>发芽指</span></div>
<div class="l j" style="left:491px;top:1080px;width:375px"><span>数相对增幅为<i>：</i>T<sub>3</sub>＞T<sub>2</sub>＞T<sub>1</sub><i>，</i>在 25%～60%<i>，</i>T<sub>2</sub> 和 T<sub>1</sub></span></div>
<div class="l" style="left:491px;top:1104px;width:375px"><span>接近<i>，</i>但与 T<sub>3</sub> 差值较大。</span></div>
<div class="l j" style="left:524px;top:1128px;width:342px"><span>抱茎风毛菊发芽率 T<sub>1</sub> 处理提高 8%<i>，</i>T<sub>2</sub> 处理降</span></div>
<div class="l j" style="left:491px;top:1152px;width:375px"><span>低8%<i>，</i>T<sub>3</sub>处理提高50%<i>；</i>发芽势T<sub>1</sub>处理下降低了</span></div>
<div class="l j" style="left:85px;top:1080px;width:264px;font-family:'Liberation Sans','Noto Sans CJK SC',sans-serif;font-weight:bold;font-size:14.6px"><span style="font-family:'Liberation Serif',serif">2.3</span>&nbsp;&nbsp; 不同处理下的草种相对萌发特征</div>
<div class="l" style="left:97px;top:1177px;letter-spacing:1px;word-spacing:4px"><span class="bu">•</span> 12 <span class="bu">•</span></div>
</div></body></html>
